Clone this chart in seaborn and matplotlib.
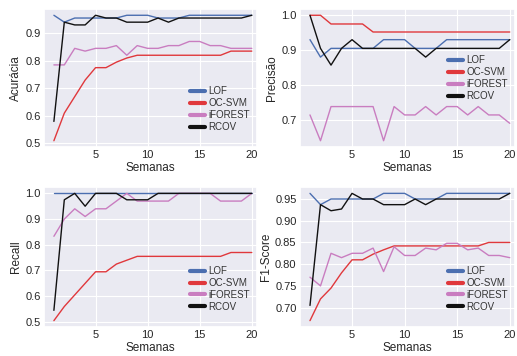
import matplotlib
matplotlib.use("Agg")
import matplotlib.pyplot as plt
import seaborn as sns
import pandas as pd

weeks = list(range(1, 21))
methods = ["LOF", "OC-SVM", "iFOREST", "RCOV"]

acc_lof = [0.965, 0.94, 0.955, 0.955, 0.955, 0.955, 0.955, 0.965, 0.965, 0.965, 0.955, 0.955, 0.955, 0.965, 0.965, 0.965, 0.965, 0.965, 0.965, 0.965]
acc_ocsvm = [0.51, 0.61, 0.67, 0.73, 0.775, 0.775, 0.795, 0.81, 0.82, 0.82, 0.82, 0.82, 0.82, 0.82, 0.82, 0.82, 0.82, 0.835, 0.835, 0.835]
acc_iforest = [0.785, 0.785, 0.845, 0.835, 0.845, 0.845, 0.855, 0.82, 0.855, 0.845, 0.845, 0.855, 0.855, 0.87, 0.87, 0.855, 0.855, 0.845, 0.845, 0.845]
acc_rcov = [0.58, 0.94, 0.93, 0.93, 0.965, 0.955, 0.955, 0.94, 0.94, 0.94, 0.955, 0.94, 0.955, 0.955, 0.955, 0.955, 0.955, 0.955, 0.955, 0.965]

prec_lof = [0.93, 0.88, 0.905, 0.905, 0.905, 0.905, 0.905, 0.93, 0.93, 0.93, 0.905, 0.905, 0.905, 0.93, 0.93, 0.93, 0.93, 0.93, 0.93, 0.93]
prec_ocsvm = [1.0, 1.0, 0.975, 0.975, 0.975, 0.975, 0.952, 0.952, 0.952, 0.952, 0.952, 0.952, 0.952, 0.952, 0.952, 0.952, 0.952, 0.952, 0.952, 0.952]
prec_iforest = [0.714, 0.64, 0.738, 0.738, 0.738, 0.738, 0.738, 0.64, 0.738, 0.714, 0.714, 0.738, 0.714, 0.738, 0.738, 0.714, 0.738, 0.714, 0.714, 0.69]
prec_rcov = [1.0, 0.905, 0.857, 0.905, 0.93, 0.905, 0.905, 0.905, 0.905, 0.905, 0.905, 0.88, 0.905, 0.905, 0.905, 0.905, 0.905, 0.905, 0.905, 0.93]

rec_lof = [1.0] * 20
rec_ocsvm = [0.505, 0.56, 0.605, 0.65, 0.695, 0.695, 0.725, 0.74, 0.755, 0.755, 0.755, 0.755, 0.755, 0.755, 0.755, 0.755, 0.755, 0.77, 0.77, 0.77]
rec_iforest = [0.833, 0.9, 0.94, 0.91, 0.94, 0.94, 0.97, 1.0, 0.97, 0.97, 0.97, 0.97, 1.0, 1.0, 1.0, 1.0, 0.97, 0.97, 0.97, 1.0]
rec_rcov = [0.545, 0.975, 1.0, 0.95, 1.0, 1.0, 1.0, 0.975, 0.975, 0.975, 1.0, 1.0, 1.0, 1.0, 1.0, 1.0, 1.0, 1.0, 1.0, 1.0]

f1_lof = [0.963, 0.937, 0.95, 0.95, 0.95, 0.95, 0.95, 0.963, 0.963, 0.963, 0.95, 0.95, 0.95, 0.963, 0.963, 0.963, 0.963, 0.963, 0.963, 0.963]
f1_ocsvm = [0.67, 0.72, 0.745, 0.78, 0.81, 0.81, 0.823, 0.833, 0.842, 0.842, 0.842, 0.842, 0.842, 0.842, 0.842, 0.842, 0.842, 0.85, 0.85, 0.85]
f1_iforest = [0.77, 0.75, 0.825, 0.815, 0.825, 0.825, 0.837, 0.783, 0.84, 0.82, 0.82, 0.837, 0.833, 0.848, 0.848, 0.833, 0.837, 0.82, 0.82, 0.815]
f1_rcov = [0.705, 0.937, 0.923, 0.927, 0.963, 0.95, 0.95, 0.937, 0.937, 0.937, 0.95, 0.937, 0.95, 0.95, 0.95, 0.95, 0.95, 0.95, 0.95, 0.963]

f1_ticks = [0.70, 0.75, 0.80, 0.85, 0.90, 0.95]

panels = [
    ("Acurácia", [acc_lof, acc_ocsvm, acc_iforest, acc_rcov]),
    ("Precisão", [prec_lof, prec_ocsvm, prec_iforest, prec_rcov]),
    ("Recall", [rec_lof, rec_ocsvm, rec_iforest, rec_rcov]),
    ("F1-Score", [f1_lof, f1_ocsvm, f1_iforest, f1_rcov]),
]

sns.set_theme(style="darkgrid")
plt.rcParams["font.family"] = ["Liberation Sans", "DejaVu Sans"]

colors = {"LOF": "#4c6fb0", "OC-SVM": "#e0383c", "iFOREST": "#c97dc0", "RCOV": "#111111"}

fig = plt.figure(figsize=(5.17, 3.56), dpi=100)
W, H = 517, 356
boxes = [(44, 9, 257, 147), (300, 9, 515, 147), (44, 187, 257, 327), (300, 187, 515, 327)]
legend_anchor = [(1.0, 0.06), (1.0, 0.5), (1.0, 0.06), (1.0, 0.06)]
legend_loc = ["lower right", "center right", "lower right", "lower right"]

for (ylabel, series), (l, t, r, b), anc, loc in zip(panels, boxes, legend_anchor, legend_loc):
    ax = fig.add_axes([l / W, 1 - b / H, (r - l) / W, (b - t) / H])
    rows = []
    for m, vals in zip(methods, series):
        for w, v in zip(weeks, vals):
            rows.append({"Semanas": w, "val": v, "Método": m})
    df = pd.DataFrame(rows)
    sns.lineplot(data=df, x="Semanas", y="val", hue="Método", palette=colors,
                 hue_order=methods, ax=ax, linewidth=1.0)
    ax.set_ylabel(ylabel, fontsize=8.5, labelpad=2)
    ax.set_xlabel("Semanas", fontsize=8.5, labelpad=1)
    ax.set_xlim(0.05, 20.5)
    ax.set_xticks([5, 10, 15, 20])
    ax.tick_params(labelsize=8, length=0, pad=2.5)
    if ylabel == "F1-Score":
        ax.set_yticks(f1_ticks)
        ax.yaxis.set_major_formatter(matplotlib.ticker.FormatStrFormatter("%.2f"))
    else:
        ax.yaxis.set_major_formatter(matplotlib.ticker.FormatStrFormatter("%.1f"))
    ax.grid(True, color="white", linewidth=0.8)
    leg = ax.legend(loc=loc, frameon=False, fontsize=7,
                    handlelength=1.5, handletextpad=0.4, labelspacing=0.2,
                    borderaxespad=0.3, bbox_to_anchor=anc)
    for h in leg.get_lines():
        h.set_linewidth(3)
    for txt in leg.get_texts():
        txt.set_color("#333333")

fig.savefig("out.png", dpi=100)
